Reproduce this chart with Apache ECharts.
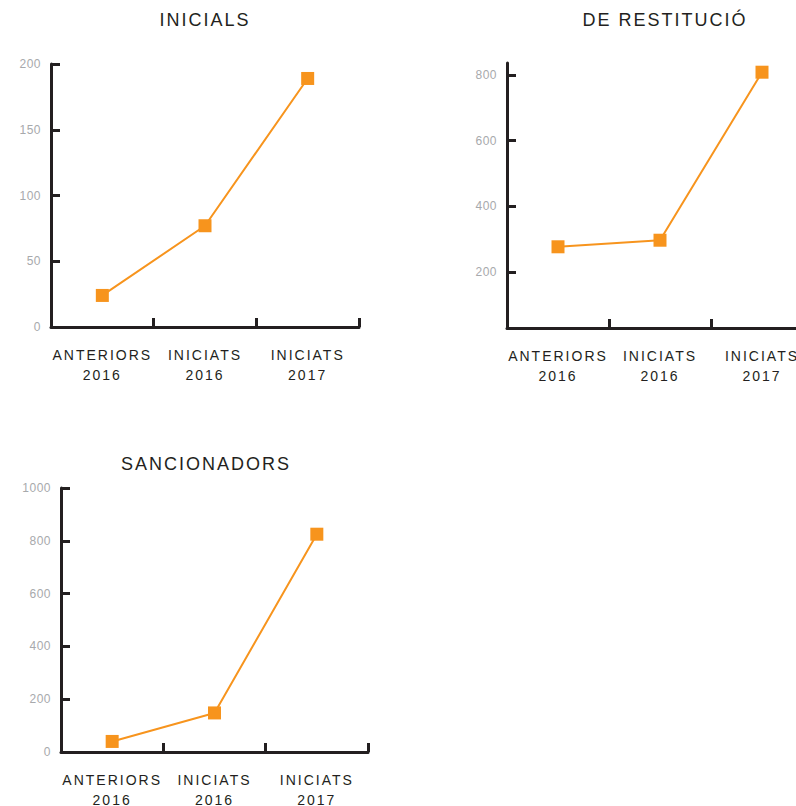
<!DOCTYPE html>
<html>
<head>
<meta charset="utf-8">
<script src="https://cdn.jsdelivr.net/npm/echarts@6/dist/echarts.min.js"></script>
<style>
	html,body{margin:0;padding:0;background:#fff;}
	#main{width:796px;height:806px;}
	#main text{letter-spacing:2px;}
	#main text[style*="12px"]{letter-spacing:0.5px;}
</style>
</head>
<body>
<div id="main"></div>
<script>
var categories = ['ANTERIORS\n2016', 'INICIATS\n2016', 'INICIATS\n2017'];
var titles = ['INICIALS', 'DE RESTITUCIÓ', 'SANCIONADORS'];

var inicialsValues = [24, 77, 189];
var restitucioValues = [277, 297, 808];
var sancionadorsValues = [40, 148, 825];

var inicialsTicks = [0, 50, 100, 150, 200];
var restitucioTicks = [200, 400, 600, 800];
var sancionadorsTicks = [0, 200, 400, 600, 800, 1000];

var dark = '#231f20', grey = '#a7a9ac', orange = '#f7941d';
var font = 'Liberation Sans';

function makeTitle(text, cx, top){
	return {
		text: text,
		left: cx,
		top: top,
		padding: 0,
		textAlign: 'center',
		textStyle: {fontFamily: font, fontSize: 18, fontWeight: 'normal', color: dark}
	};
}
function makeX(idx){
	return {
		type: 'category',
		gridIndex: idx,
		data: categories,
		boundaryGap: true,
		axisLine: {lineStyle: {color: dark, width: 3}},
		axisTick: {show: true, inside: true, length: 9, lineStyle: {color: dark, width: 3}},
		axisLabel: {color: dark, fontFamily: font, fontSize: 14, lineHeight: 20, margin: 18, interval: 0},
		splitLine: {show: false}
	};
}
function makeY(idx, min, max, ticks){
	return {
		type: 'value',
		gridIndex: idx,
		min: min,
		max: max,
		axisLine: {show: true, lineStyle: {color: dark, width: 3}},
		axisTick: {show: true, inside: true, length: 9, lineStyle: {color: dark, width: 3}, customValues: ticks},
		axisLabel: {
			color: grey, fontFamily: font, fontSize: 12, margin: 10, customValues: ticks,
			formatter: function(v){ return String(v); }
		},
		splitLine: {show: false}
	};
}
function makeSeries(idx, values){
	return {
		type: 'line',
		xAxisIndex: idx,
		yAxisIndex: idx,
		data: values,
		symbol: 'rect',
		symbolSize: 13,
		lineStyle: {color: orange, width: 2},
		itemStyle: {color: orange},
		emphasis: {disabled: true}
	};
}

var myChart = echarts.init(document.getElementById('main'), null, {renderer: 'svg'});
var option = {
	animation: false,
	backgroundColor: '#fff',
	title: [
		makeTitle(titles[0], 205, 11),
		makeTitle(titles[1], 665, 11),
		makeTitle(titles[2], 206, 455)
	],
	grid: [
		{left: 51, right: 437, top: 64, bottom: 479, outerBoundsMode: 'none'},
		{left: 507, right: -17, top: 63, bottom: 478, outerBoundsMode: 'none'},
		{left: 61, right: 428, top: 488, bottom: 54, outerBoundsMode: 'none'}
	],
	xAxis: [makeX(0), makeX(1), makeX(2)],
	yAxis: [
		makeY(0, 0, 200, inicialsTicks),
		makeY(1, 30, 836, restitucioTicks),
		makeY(2, 0, 1000, sancionadorsTicks)
	],
	series: [
		makeSeries(0, inicialsValues),
		makeSeries(1, restitucioValues),
		makeSeries(2, sancionadorsValues)
	]
};
myChart.setOption(option);
</script>
</body>
</html>
